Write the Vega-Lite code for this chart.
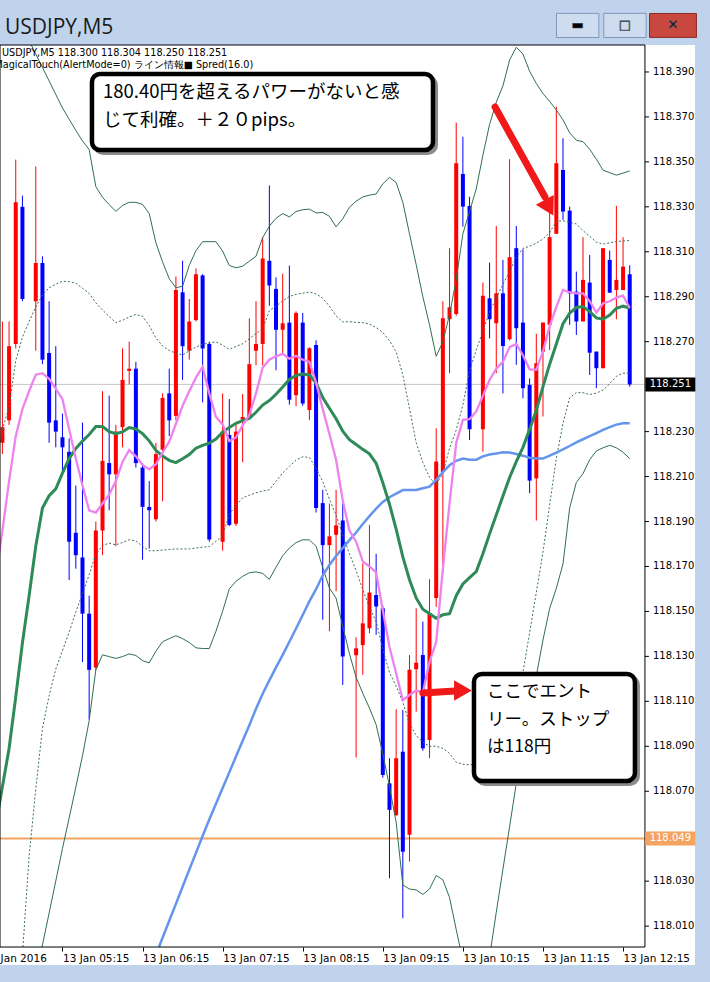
{
"$schema":"https://vega.github.io/schema/vega-lite/v6.json",
"width":695,"height":920,
"autosize":{"type":"none"},
"padding":{"left":0,"top":45,"right":15,"bottom":17},
"background":"#bfd4ec",
"config":{"view":{"fill":"white","stroke":null},"font":"DejaVu Sans"},
"datasets":{
"candles":[
{"t":270,"o":118.225,"h":118.279,"l":118.220,"c":118.232},
{"t":275,"o":118.235,"h":118.279,"l":118.233,"c":118.268},
{"t":280,"o":118.269,"h":118.351,"l":118.267,"c":118.332},
{"t":285,"o":118.330,"h":118.335,"l":118.288,"c":118.289},
{"t":295,"o":118.288,"h":118.348,"l":118.266,"c":118.305},
{"t":300,"o":118.305,"h":118.308,"l":118.260,"c":118.262},
{"t":305,"o":118.265,"h":118.288,"l":118.225,"c":118.234},
{"t":310,"o":118.235,"h":118.268,"l":118.223,"c":118.230},
{"t":315,"o":118.2275,"h":118.238,"l":118.212,"c":118.223},
{"t":320,"o":118.221,"h":118.227,"l":118.164,"c":118.181},
{"t":325,"o":118.185,"h":118.206,"l":118.169,"c":118.175},
{"t":330,"o":118.174,"h":118.234,"l":118.1275,"c":118.149},
{"t":335,"o":118.149,"h":118.157,"l":118.102,"c":118.124},
{"t":340,"o":118.125,"h":118.190,"l":118.124,"c":118.186},
{"t":345,"o":118.186,"h":118.248,"l":118.175,"c":118.217},
{"t":350,"o":118.216,"h":118.246,"l":118.195,"c":118.211},
{"t":355,"o":118.211,"h":118.233,"l":118.179,"c":118.230},
{"t":360,"o":118.232,"h":118.267,"l":118.223,"c":118.253},
{"t":365,"o":118.257,"h":118.270,"l":118.251,"c":118.258},
{"t":370,"o":118.258,"h":118.261,"l":118.214,"c":118.216},
{"t":375,"o":118.214,"h":118.216,"l":118.173,"c":118.1965},
{"t":380,"o":118.1965,"h":118.208,"l":118.178,"c":118.195},
{"t":385,"o":118.191,"h":118.225,"l":118.190,"c":118.220},
{"t":390,"o":118.222,"h":118.247,"l":118.199,"c":118.245},
{"t":395,"o":118.247,"h":118.258,"l":118.228,"c":118.235},
{"t":400,"o":118.237,"h":118.299,"l":118.235,"c":118.293},
{"t":405,"o":118.292,"h":118.306,"l":118.253,"c":118.268},
{"t":410,"o":118.266,"h":118.289,"l":118.262,"c":118.279},
{"t":415,"o":118.2796,"h":118.3026,"l":118.279,"c":118.300},
{"t":420,"o":118.2995,"h":118.300,"l":118.243,"c":118.267},
{"t":425,"o":118.269,"h":118.270,"l":118.181,"c":118.182},
{"t":435,"o":118.181,"h":118.247,"l":118.177,"c":118.230},
{"t":440,"o":118.2285,"h":118.2445,"l":118.188,"c":118.1885},
{"t":445,"o":118.189,"h":118.2334,"l":118.188,"c":118.230},
{"t":450,"o":118.2353,"h":118.2467,"l":118.2164,"c":118.2365},
{"t":455,"o":118.2365,"h":118.2804,"l":118.236,"c":118.260},
{"t":460,"o":118.266,"h":118.288,"l":118.2595,"c":118.269},
{"t":465,"o":118.269,"h":118.3165,"l":118.2595,"c":118.307},
{"t":470,"o":118.306,"h":118.3395,"l":118.286,"c":118.295},
{"t":475,"o":118.2935,"h":118.2986,"l":118.2573,"c":118.2753},
{"t":480,"o":118.2753,"h":118.3003,"l":118.2646,"c":118.2782},
{"t":485,"o":118.2785,"h":118.3038,"l":118.242,"c":118.2442},
{"t":490,"o":118.2462,"h":118.2835,"l":118.2413,"c":118.2828},
{"t":495,"o":118.2785,"h":118.2828,"l":118.2415,"c":118.2425},
{"t":500,"o":118.2396,"h":118.2675,"l":118.2351,"c":118.2671},
{"t":505,"o":118.2685,"h":118.2706,"l":118.194,"c":118.196},
{"t":510,"o":118.1982,"h":118.2041,"l":118.1463,"c":118.1795},
{"t":515,"o":118.1795,"h":118.198,"l":118.1412,"c":118.1834},
{"t":520,"o":118.1841,"h":118.2041,"l":118.159,"c":118.1883},
{"t":525,"o":118.1905,"h":118.1994,"l":118.1173,"c":118.130},
{"t":535,"o":118.1305,"h":118.1385,"l":118.085,"c":118.1336},
{"t":540,"o":118.135,"h":118.1714,"l":118.1218,"c":118.1447},
{"t":545,"o":118.1425,"h":118.1885,"l":118.1403,"c":118.1584},
{"t":550,"o":118.1573,"h":118.1756,"l":118.1396,"c":118.1522},
{"t":555,"o":118.1514,"h":118.1525,"l":118.076,"c":118.0772},
{"t":560,"o":118.0735,"h":118.0847,"l":118.0313,"c":118.0617},
{"t":565,"o":118.0594,"h":118.1065,"l":118.059,"c":118.0847},
{"t":570,"o":118.0876,"h":118.1062,"l":118.0135,"c":118.0431},
{"t":575,"o":118.0506,"h":118.1306,"l":118.0387,"c":118.124},
{"t":580,"o":118.1243,"h":118.1514,"l":118.1054,"c":118.1272},
{"t":585,"o":118.1306,"h":118.1455,"l":118.088,"c":118.0891},
{"t":590,"o":118.0928,"h":118.1643,"l":118.0847,"c":118.1492},
{"t":595,"o":118.156,"h":118.2315,"l":118.152,"c":118.2167},
{"t":600,"o":118.212,"h":118.288,"l":118.167,"c":118.2804},
{"t":605,"o":118.280,"h":118.3116,"l":118.256,"c":118.2853},
{"t":610,"o":118.2823,"h":118.3675,"l":118.2815,"c":118.3494},
{"t":615,"o":118.3446,"h":118.3612,"l":118.3212,"c":118.3301},
{"t":620,"o":118.3304,"h":118.3345,"l":118.2263,"c":118.231},
{"t":630,"o":118.231,"h":118.2963,"l":118.221,"c":118.2904},
{"t":635,"o":118.2893,"h":118.3052,"l":118.2715,"c":118.280},
{"t":640,"o":118.2782,"h":118.3215,"l":118.256,"c":118.2915},
{"t":645,"o":118.2915,"h":118.3064,"l":118.247,"c":118.2681},
{"t":650,"o":118.2711,"h":118.3512,"l":118.2705,"c":118.3076},
{"t":655,"o":118.3116,"h":118.3215,"l":118.2597,"c":118.276},
{"t":660,"o":118.2785,"h":118.3111,"l":118.2448,"c":118.2493},
{"t":665,"o":118.2508,"h":118.2537,"l":118.2026,"c":118.2082},
{"t":670,"o":118.2092,"h":118.2735,"l":118.1904,"c":118.2604},
{"t":675,"o":118.2656,"h":118.2785,"l":118.2367,"c":118.2785},
{"t":680,"o":118.2775,"h":118.3279,"l":118.2663,"c":118.3165},
{"t":685,"o":118.318,"h":118.3746,"l":118.318,"c":118.3494},
{"t":690,"o":118.3464,"h":118.3605,"l":118.3242,"c":118.3279},
{"t":695,"o":118.3283,"h":118.3301,"l":118.2775,"c":118.2915},
{"t":700,"o":118.2923,"h":118.3012,"l":118.273,"c":118.279},
{"t":705,"o":118.279,"h":118.3165,"l":118.279,"c":118.2975},
{"t":710,"o":118.2963,"h":118.3086,"l":118.2552,"c":118.2651},
{"t":715,"o":118.2656,"h":118.2656,"l":118.2493,"c":118.2582},
{"t":720,"o":118.2582,"h":118.3116,"l":118.2582,"c":118.3116},
{"t":725,"o":118.3064,"h":118.3105,"l":118.2918,"c":118.2918},
{"t":730,"o":118.293,"h":118.3304,"l":118.280,"c":118.2975},
{"t":735,"o":118.293,"h":118.3165,"l":118.293,"c":118.3034},
{"t":740,"o":118.300,"h":118.304,"l":118.250,"c":118.251}
],
"ind":[
{"t":265,"pk":118.165,"gr":118.055,"us":118.44,"ud":118.215},
{"t":270,"pk":118.186,"gr":118.072,"us":118.43,"ud":118.231},
{"t":275,"pk":118.208,"gr":118.089,"us":118.425,"ud":118.241},
{"t":280,"pk":118.228,"gr":118.112,"us":118.418,"ud":118.2615},
{"t":285,"pk":118.240,"gr":118.136,"us":118.41,"ud":118.272},
{"t":285.4,"ld":118.0007},
{"t":290,"pk":118.248,"gr":118.157,"us":118.404,"ud":118.279,"ld":118.041},
{"t":295,"pk":118.2553,"gr":118.179,"us":118.398,"ud":118.2855,"ld":118.071},
{"t":299.7,"ls":118.0007},
{"t":300,"pk":118.256,"gr":118.196,"us":118.392,"ud":118.2908,"ld":118.098},
{"t":305,"pk":118.2535,"gr":118.2015,"us":118.386,"ud":118.294,"ld":118.1125,"ls":118.0158},
{"t":310,"pk":118.249,"gr":118.2045,"us":118.380,"ud":118.2956,"ld":118.1244,"ls":118.0301},
{"t":315,"pk":118.2444,"gr":118.2115,"us":118.374,"ud":118.2969,"ld":118.1325,"ls":118.0445},
{"t":320,"pk":118.231,"gr":118.218,"us":118.369,"ud":118.2967,"ld":118.1408,"ls":118.0581},
{"t":325,"pk":118.218,"gr":118.2225,"us":118.364,"ud":118.296,"ld":118.1498,"ls":118.0718},
{"t":330,"pk":118.206,"gr":118.2258,"us":118.3593,"ud":118.2938,"ld":118.1579,"ls":118.0858},
{"t":335,"pk":118.195,"gr":118.2287,"us":118.3555,"ud":118.2915,"ld":118.1663,"ls":118.1014},
{"t":340,"pk":118.194,"gr":118.2323,"us":118.339,"ud":118.2873,"ld":118.1754,"ls":118.124},
{"t":345,"pk":118.198,"gr":118.2323,"us":118.3342,"ud":118.2841,"ld":118.1793,"ls":118.1307},
{"t":350,"pk":118.202,"gr":118.230,"us":118.331,"ud":118.2812,"ld":118.1804,"ls":118.1299},
{"t":355,"pk":118.208,"gr":118.2291,"us":118.328,"ud":118.2785,"ld":118.1796,"ls":118.1291},
{"t":360,"pk":118.2165,"gr":118.2299,"us":118.3306,"ud":118.2795,"ld":118.1807,"ls":118.1299},
{"t":365,"pk":118.2218,"gr":118.2318,"us":118.332,"ud":118.281,"ld":118.1819,"ls":118.1311},
{"t":370,"pk":118.219,"gr":118.2312,"us":118.332,"ud":118.2821,"ld":118.1814,"ls":118.1304},
{"t":375,"pk":118.2152,"gr":118.2291,"us":118.3311,"ud":118.2813,"ld":118.1789,"ls":118.1281},
{"t":380,"pk":118.2132,"gr":118.2259,"us":118.327,"ud":118.2772,"ld":118.177,"ls":118.1271},
{"t":385,"pk":118.2155,"gr":118.2217,"us":118.314,"ud":118.2717,"ld":118.177,"ls":118.1323},
{"t":387.3,"bl":118.0007},
{"t":390,"pk":118.2207,"gr":118.2191,"us":118.3055,"ud":118.2681,"ld":118.1773,"ls":118.1365,"bl":118.0048},
{"t":395,"pk":118.2255,"gr":118.2172,"us":118.298,"ud":118.2661,"ld":118.1776,"ls":118.1379,"bl":118.0124},
{"t":400,"pk":118.2335,"gr":118.2162,"us":118.294,"ud":118.2649,"ld":118.1778,"ls":118.1392,"bl":118.0199},
{"t":405,"pk":118.2415,"gr":118.2179,"us":118.2947,"ud":118.2641,"ld":118.1778,"ls":118.1379,"bl":118.0275},
{"t":410,"pk":118.248,"gr":118.2198,"us":118.304,"ud":118.2659,"ld":118.1778,"ls":118.1362,"bl":118.0351},
{"t":415,"pk":118.254,"gr":118.2226,"us":118.3105,"ud":118.2676,"ld":118.1782,"ls":118.1338,"bl":118.0426},
{"t":420,"pk":118.2588,"gr":118.2239,"us":118.3145,"ud":118.2689,"ld":118.1786,"ls":118.1335,"bl":118.0501},
{"t":425,"pk":118.247,"gr":118.2249,"us":118.3145,"ud":118.2694,"ld":118.1789,"ls":118.1335,"bl":118.0574},
{"t":430,"pk":118.2365,"gr":118.2267,"us":118.3145,"ud":118.2699,"ld":118.1812,"ls":118.1412,"bl":118.0644},
{"t":435,"pk":118.2332,"gr":118.2298,"us":118.3103,"ud":118.2685,"ld":118.1836,"ls":118.1501,"bl":118.0714},
{"t":440,"pk":118.2258,"gr":118.2318,"us":118.3039,"ud":118.2666,"ld":118.1932,"ls":118.16,"bl":118.0784},
{"t":445,"pk":118.2274,"gr":118.2337,"us":118.3029,"ud":118.2679,"ld":118.1971,"ls":118.1634,"bl":118.0855},
{"t":450,"pk":118.2328,"gr":118.2349,"us":118.3036,"ud":118.2691,"ld":118.2006,"ls":118.1656,"bl":118.0925},
{"t":455,"pk":118.2375,"gr":118.2359,"us":118.3058,"ud":118.2713,"ld":118.2017,"ls":118.1672,"bl":118.0994},
{"t":460,"pk":118.247,"gr":118.2386,"us":118.308,"ud":118.2737,"ld":118.2028,"ls":118.1676,"bl":118.1067},
{"t":465,"pk":118.2585,"gr":118.2418,"us":118.3163,"ud":118.2756,"ld":118.2036,"ls":118.1669,"bl":118.1134},
{"t":470,"pk":118.262,"gr":118.2438,"us":118.3214,"ud":118.2838,"ld":118.2041,"ls":118.1643,"bl":118.1193},
{"t":475,"pk":118.2635,"gr":118.2466,"us":118.3249,"ud":118.2859,"ld":118.2079,"ls":118.1697,"bl":118.1251},
{"t":480,"pk":118.2646,"gr":118.2498,"us":118.327,"ud":118.2881,"ld":118.2116,"ls":118.1748,"bl":118.1307},
{"t":485,"pk":118.2624,"gr":118.2532,"us":118.3255,"ud":118.2901,"ld":118.2145,"ls":118.1782,"bl":118.1365},
{"t":490,"pk":118.2637,"gr":118.255,"us":118.3279,"ud":118.2911,"ld":118.2174,"ls":118.1806,"bl":118.1424},
{"t":495,"pk":118.262,"gr":118.2556,"us":118.3287,"ud":118.2916,"ld":118.2188,"ls":118.1819,"bl":118.1484},
{"t":500,"pk":118.261,"gr":118.2552,"us":118.329,"ud":118.2921,"ld":118.2185,"ls":118.1818,"bl":118.1545},
{"t":505,"pk":118.2518,"gr":118.2516,"us":118.3273,"ud":118.2913,"ld":118.2138,"ls":118.179,"bl":118.1599},
{"t":510,"pk":118.240,"gr":118.2452,"us":118.3275,"ud":118.2893,"ld":118.2077,"ls":118.1695,"bl":118.1661},
{"t":515,"pk":118.229,"gr":118.2404,"us":118.3258,"ud":118.2858,"ld":118.2,"ls":118.1604,"bl":118.1707},
{"t":520,"pk":118.2175,"gr":118.2357,"us":118.3211,"ud":118.2815,"ld":118.1928,"ls":118.1559,"bl":118.1747},
{"t":525,"pk":118.1993,"gr":118.2302,"us":118.3247,"ud":118.2788,"ld":118.184,"ls":118.1434,"bl":118.1782},
{"t":530,"pk":118.186,"gr":118.2264,"us":118.3298,"ud":118.2789,"ld":118.1757,"ls":118.1312,"bl":118.1817},
{"t":535,"pk":118.181,"gr":118.2243,"us":118.3325,"ud":118.2786,"ld":118.1681,"ls":118.1207,"bl":118.1851},
{"t":540,"pk":118.1723,"gr":118.2221,"us":118.3344,"ud":118.2785,"ld":118.1597,"ls":118.1136,"bl":118.1889},
{"t":545,"pk":118.170,"gr":118.2201,"us":118.3352,"ud":118.2778,"ld":118.152,"ls":118.107,"bl":118.1924},
{"t":550,"pk":118.1674,"gr":118.2159,"us":118.3357,"ud":118.2763,"ld":118.1454,"ls":118.0996,"bl":118.1957},
{"t":555,"pk":118.1505,"gr":118.2073,"us":118.3402,"ud":118.2741,"ld":118.1334,"ls":118.0867,"bl":118.1987},
{"t":560,"pk":118.1342,"gr":118.1977,"us":118.3431,"ud":118.2705,"ld":118.1228,"ls":118.0721,"bl":118.2008},
{"t":565,"pk":118.1225,"gr":118.1866,"us":118.3408,"ud":118.2655,"ld":118.1168,"ls":118.0562,"bl":118.2024},
{"t":570,"pk":118.1105,"gr":118.1743,"us":118.332,"ud":118.2553,"ld":118.1096,"ls":118.0283,"bl":118.204},
{"t":575,"pk":118.1128,"gr":118.1641,"us":118.318,"ud":118.2403,"ld":118.1001,"ls":118.0265,"bl":118.204},
{"t":580,"pk":118.1148,"gr":118.156,"us":118.3043,"ud":118.2251,"ld":118.0949,"ls":118.0261,"bl":118.204},
{"t":585,"pk":118.114,"gr":118.151,"us":118.290,"ud":118.2163,"ld":118.0918,"ls":118.0241,"bl":118.2048},
{"t":590,"pk":118.1275,"gr":118.149,"us":118.2775,"ud":118.2096,"ld":118.09,"ls":118.0265,"bl":118.2055},
{"t":595,"pk":118.1364,"gr":118.147,"us":118.2635,"ud":118.2064,"ld":118.09,"ls":118.0325,"bl":118.2085},
{"t":600,"pk":118.169,"gr":118.1485,"us":118.270,"ud":118.2115,"ld":118.0891,"ls":118.0306,"bl":118.212},
{"t":605,"pk":118.198,"gr":118.149,"us":118.282,"ud":118.2226,"ld":118.0868,"ls":118.0227,"bl":118.215},
{"t":610,"pk":118.225,"gr":118.157,"us":118.2976,"ud":118.2307,"ld":118.0829,"ls":118.0085,"bl":118.217},
{"t":612.8,"ls":118.0007},
{"t":615,"pk":118.2352,"gr":118.1622,"us":118.318,"ud":118.2418,"ld":118.082,"bl":118.218},
{"t":620,"pk":118.2355,"gr":118.165,"us":118.3279,"ud":118.2571,"ld":118.0818,"bl":118.2175},
{"t":625,"pk":118.239,"gr":118.1677,"us":118.338,"ud":118.2663,"ld":118.0819,"bl":118.2175},
{"t":630,"pk":118.2459,"gr":118.1757,"us":118.353,"ud":118.2748,"ld":118.0824,"bl":118.219},
{"t":635,"pk":118.253,"gr":118.1845,"us":118.3667,"ud":118.2832,"ld":118.0834,"bl":118.2198},
{"t":636.1,"ls2":118.0007},
{"t":640,"pk":118.258,"gr":118.1929,"us":118.3765,"ud":118.2893,"ld":118.0845,"bl":118.2203,"ls2":118.0161},
{"t":645,"pk":118.261,"gr":118.2013,"us":118.3838,"ud":118.2955,"ld":118.0874,"bl":118.2208,"ls2":118.0353},
{"t":650,"pk":118.2676,"gr":118.2096,"us":118.3953,"ud":118.3011,"ld":118.0932,"bl":118.2207,"ls2":118.0542},
{"t":655,"pk":118.269,"gr":118.2166,"us":118.401,"ud":118.3077,"ld":118.102,"bl":118.22,"ls2":118.0735},
{"t":660,"pk":118.264,"gr":118.223,"us":118.398,"ud":118.3115,"ld":118.123,"bl":118.2193,"ls2":118.0893},
{"t":665,"pk":118.2577,"gr":118.231,"us":118.3903,"ud":118.3125,"ld":118.1405,"bl":118.2184,"ls2":118.1051},
{"t":670,"pk":118.2575,"gr":118.2395,"us":118.3849,"ud":118.3138,"ld":118.1584,"bl":118.218,"ls2":118.1212},
{"t":675,"pk":118.2657,"gr":118.250,"us":118.3804,"ud":118.3157,"ld":118.1764,"bl":118.218,"ls2":118.1373},
{"t":680,"pk":118.2768,"gr":118.26,"us":118.3769,"ud":118.3185,"ld":118.1974,"bl":118.2193,"ls2":118.1513},
{"t":685,"pk":118.2855,"gr":118.269,"us":118.3731,"ud":118.3235,"ld":118.2181,"bl":118.2207,"ls2":118.1603},
{"t":690,"pk":118.293,"gr":118.278,"us":118.3687,"ud":118.3238,"ld":118.2337,"bl":118.2221,"ls2":118.1711},
{"t":695,"pk":118.292,"gr":118.2827,"us":118.3629,"ud":118.3231,"ld":118.245,"bl":118.2236,"ls2":118.1961},
{"t":700,"pk":118.2915,"gr":118.2852,"us":118.3596,"ud":118.3224,"ld":118.2474,"bl":118.2252,"ls2":118.2074},
{"t":705,"pk":118.2915,"gr":118.2856,"us":118.359,"ud":118.3194,"ld":118.2473,"bl":118.2266,"ls2":118.2113},
{"t":710,"pk":118.288,"gr":118.2834,"us":118.3556,"ud":118.3169,"ld":118.2465,"bl":118.228,"ls2":118.2175},
{"t":715,"pk":118.283,"gr":118.2806,"us":118.3512,"ud":118.3143,"ld":118.2471,"bl":118.2293,"ls2":118.2214},
{"t":720,"pk":118.287,"gr":118.280,"us":118.3463,"ud":118.3134,"ld":118.2485,"bl":118.2308,"ls2":118.2228},
{"t":725,"pk":118.288,"gr":118.2819,"us":118.3452,"ud":118.314,"ld":118.2513,"bl":118.232,"ls2":118.2239},
{"t":730,"pk":118.2896,"gr":118.2848,"us":118.3441,"ud":118.3146,"ld":118.2546,"bl":118.2331,"ls2":118.2228},
{"t":735,"pk":118.2905,"gr":118.2858,"us":118.345,"ud":118.3148,"ld":118.256,"bl":118.2337,"ls2":118.2208},
{"t":740,"pk":118.285,"gr":118.285,"us":118.346,"ud":118.315,"ld":118.256,"bl":118.2337,"ls2":118.218}
],
"yticks":[
{"t":751.4,"t2":754.4,"v":118.39},{"t":751.4,"t2":754.4,"v":118.37},{"t":751.4,"t2":754.4,"v":118.35},{"t":751.4,"t2":754.4,"v":118.33},
{"t":751.4,"t2":754.4,"v":118.31},{"t":751.4,"t2":754.4,"v":118.29},{"t":751.4,"t2":754.4,"v":118.27},{"t":751.4,"t2":754.4,"v":118.23},
{"t":751.4,"t2":754.4,"v":118.21},{"t":751.4,"t2":754.4,"v":118.19},{"t":751.4,"t2":754.4,"v":118.17},{"t":751.4,"t2":754.4,"v":118.15},
{"t":751.4,"t2":754.4,"v":118.13},{"t":751.4,"t2":754.4,"v":118.11},{"t":751.4,"t2":754.4,"v":118.09},{"t":751.4,"t2":754.4,"v":118.07},
{"t":751.4,"t2":754.4,"v":118.03},{"t":751.4,"t2":754.4,"v":118.01}],
"hlines":[{"t":268.2,"t2":751.4,"v":118.251,"k":"bid"},{"t":268.2,"t2":751.4,"v":118.049,"k":"line"}],
"frame":[{"t":268.2,"t2":751.4,"v":118.0007,"v2":118.402}],
"badges":[{"t":770.4,"v":118.251,"lab":"118.251","k":"bid"},{"t":770.4,"v":118.049,"lab":"118.049","k":"line"}],
"wintitle":[{"t":271.9,"v":118.4096,"txt":"USDJPY,M5"}],
"buttons":[{"t":701.0,"v":118.4107,"k":"min","ic":"▬"},{"t":736.4,"v":118.4107,"k":"max","ic":"□"},{"t":772.4,"v":118.4107,"k":"close","ic":"✕"}],
"header":[{"t":269.7,"v":118.3985,"txt":"USDJPY,M5  118.300 118.304 118.250 118.251"},{"t":264.0,"v":118.3933,"txt":"MagicalTouch(AlertMode=0) ライン情報■ Spred(16.0)"}],
"boxes":[{"t":337.1,"t2":592.6,"v":118.3891,"v2":118.3553},{"t":623.3,"t2":743.9,"v":118.1222,"v2":118.0746}],
"notes":[
{"t":345.4,"v":118.3811,"txt":"180.40円を超えるパワーがないと感","fs":"a"},
{"t":345.4,"v":118.3686,"txt":"じて利確。＋２０pips。","fs":"a"},
{"t":633.1,"v":118.1142,"txt":"ここでエント","fs":"b"},
{"t":633.1,"v":118.1017,"txt":"リー。ストップ","fs":"b"},
{"t":633.1,"v":118.0897,"txt":"は118円","fs":"b"}],
"shafts":[{"t":639.1,"v":118.3744,"t2":676.5,"v2":118.3344},{"t":585.1,"v":118.1137,"t2":609.1,"v2":118.1146}],
"heads":[{"t":678.5,"v":118.3308,"a":151.6},{"t":612.8,"v":118.1148,"a":90}]
},
"encoding":{
 "x":{"field":"t","type":"quantitative","scale":{"domain":[268.2,788.9],"zero":false,"nice":false},
 "axis":{"orient":"bottom","offset":-18,"values":[270,315,375,435,495,555,615,675,735],
 "labelExpr":"datum.value < 300 ? '13 Jan 2016' : '13 Jan ' + (datum.value < 600 ? '0' : '') + floor(datum.value/60) + ':15'",
 "labelAlign":"left","labelBaseline":"top","labelPadding":2,"labelFontSize":10.5,"labelFont":"DejaVu Sans","labelColor":"#000","labelAngle":0,
 "labelOffset":{"condition":{"test":"datum.value < 300","value":-19},"value":0},
 "tickOpacity":{"condition":{"test":"datum.value < 300","value":0},"value":1},
 "tickSize":4,"tickColor":"#000","domain":false,"grid":false,"title":null,"labelOverlap":false,"labelFlush":false,"labelBound":false,"labelLimit":0}},
 "y":{"field":"v","type":"quantitative","scale":{"domain":[117.9927,118.402],"zero":false,"nice":false},"axis":null}
},
"layer":[
{"data":{"name":"hlines"},"transform":[{"filter":"datum.k == 'bid'"}],"mark":{"type":"rule","color":"#c8c8c8","strokeWidth":1},
 "encoding":{"x2":{"field":"t2"}}},
{"data":{"name":"hlines"},"transform":[{"filter":"datum.k == 'line'"}],"mark":{"type":"rule","color":"#f4a460","strokeWidth":2},
 "encoding":{"x2":{"field":"t2"}}},
{"data":{"name":"candles"},"mark":{"type":"rule","strokeWidth":1},
 "encoding":{"y":{"field":"l","type":"quantitative","scale":{"domain":[117.9927,118.402],"zero":false,"nice":false},"axis":null},"y2":{"field":"h"},
 "color":{"condition":{"test":"datum.c >= datum.o","value":"#ff0000"},"value":"#0000ff"}}},
{"data":{"name":"candles"},"mark":{"type":"rule","strokeWidth":4,"strokeCap":"butt"},
 "encoding":{"y":{"field":"o","type":"quantitative","scale":{"domain":[117.9927,118.402],"zero":false,"nice":false},"axis":null},"y2":{"field":"c"},
 "color":{"condition":{"test":"datum.c >= datum.o","value":"#ff0000"},"value":"#0000ff"}}},
{"data":{"name":"ind"},"transform":[{"filter":"isValid(datum.us)"}],"mark":{"type":"line","color":"#2f6f4f","strokeWidth":1,"clip":true},
 "encoding":{"y":{"field":"us","type":"quantitative","scale":{"domain":[117.9927,118.402],"zero":false,"nice":false},"axis":null}}},
{"data":{"name":"ind"},"transform":[{"filter":"isValid(datum.ls)"}],"mark":{"type":"line","color":"#2f6f4f","strokeWidth":1,"clip":true},
 "encoding":{"y":{"field":"ls","type":"quantitative","scale":{"domain":[117.9927,118.402],"zero":false,"nice":false},"axis":null}}},
{"data":{"name":"ind"},"transform":[{"filter":"isValid(datum.ls2)"}],"mark":{"type":"line","color":"#2f6f4f","strokeWidth":1,"clip":true},
 "encoding":{"y":{"field":"ls2","type":"quantitative","scale":{"domain":[117.9927,118.402],"zero":false,"nice":false},"axis":null}}},
{"data":{"name":"ind"},"transform":[{"filter":"isValid(datum.ud)"}],"mark":{"type":"line","color":"#3d6f5a","strokeWidth":1,"strokeDash":[2,2],"clip":true},
 "encoding":{"y":{"field":"ud","type":"quantitative","scale":{"domain":[117.9927,118.402],"zero":false,"nice":false},"axis":null}}},
{"data":{"name":"ind"},"transform":[{"filter":"isValid(datum.ld)"}],"mark":{"type":"line","color":"#3d6f5a","strokeWidth":1,"strokeDash":[2,2],"clip":true},
 "encoding":{"y":{"field":"ld","type":"quantitative","scale":{"domain":[117.9927,118.402],"zero":false,"nice":false},"axis":null}}},
{"data":{"name":"ind"},"transform":[{"filter":"isValid(datum.bl)"}],"mark":{"type":"line","color":"#6495ed","strokeWidth":2.5,"clip":true},
 "encoding":{"y":{"field":"bl","type":"quantitative","scale":{"domain":[117.9927,118.402],"zero":false,"nice":false},"axis":null}}},
{"data":{"name":"ind"},"transform":[{"filter":"isValid(datum.gr)"}],"mark":{"type":"line","color":"#2e8b57","strokeWidth":3,"clip":true},
 "encoding":{"y":{"field":"gr","type":"quantitative","scale":{"domain":[117.9927,118.402],"zero":false,"nice":false},"axis":null}}},
{"data":{"name":"ind"},"transform":[{"filter":"isValid(datum.pk)"}],"mark":{"type":"line","color":"#ee82ee","strokeWidth":2.3,"clip":true},
 "encoding":{"y":{"field":"pk","type":"quantitative","scale":{"domain":[117.9927,118.402],"zero":false,"nice":false},"axis":null}}},
{"data":{"name":"frame"},"mark":{"type":"rect","fillOpacity":0,"stroke":"#000","strokeWidth":1},
 "encoding":{"x2":{"field":"t2"},"y2":{"field":"v2"}}},
{"data":{"name":"yticks"},"mark":{"type":"rule","color":"#000","strokeWidth":1},
 "encoding":{"x2":{"field":"t2"}}},
{"data":{"name":"yticks"},"mark":{"type":"text","color":"#000","fontSize":10,"font":"DejaVu Sans","align":"left","baseline":"middle","dx":4},
 "encoding":{"x":{"field":"t2","type":"quantitative","scale":{"domain":[268.2,788.9],"zero":false,"nice":false}},"text":{"field":"v","type":"quantitative","format":".3f"}}},
{"data":{"name":"badges"},"mark":{"type":"point","shape":"M-1,-0.28L1,-0.28L1,0.28L-1,0.28Z","size":2500,"filled":true,"opacity":1},
 "encoding":{"color":{"field":"k","type":"nominal","scale":{"domain":["bid","line"],"range":["#000000","#f4a460"]},"legend":null}}},
{"data":{"name":"badges"},"mark":{"type":"text","color":"#ffffff","fontSize":10,"font":"DejaVu Sans","align":"center","baseline":"middle"},
 "encoding":{"text":{"field":"lab"}}},
{"data":{"name":"wintitle"},"mark":{"type":"text","color":"#1a1a1a","fontSize":21,"font":"Open Sans","align":"left","baseline":"middle"},
 "encoding":{"text":{"field":"txt"}}},
{"data":{"name":"buttons"},"transform":[{"filter":"datum.k != 'close'"}],"mark":{"type":"point","shape":"M-1,-0.57L1,-0.57L1,0.57L-1,0.57Z","size":1800,"filled":true,"opacity":1,"color":"#cddcef","stroke":"#7f97b8","strokeWidth":1,"strokeOpacity":1}},
{"data":{"name":"buttons"},"transform":[{"filter":"datum.k == 'close'"}],"mark":{"type":"point","shape":"M-1,-0.51L1,-0.51L1,0.51L-1,0.51Z","size":2200,"filled":true,"opacity":1,"color":"#c8473e","stroke":"#8a2a22","strokeWidth":1,"strokeOpacity":1}},
{"data":{"name":"buttons"},"mark":{"type":"text","fontSize":13,"font":"DejaVu Sans","fontWeight":"bold","align":"center","baseline":"middle","stroke":"#3d4f6b","strokeWidth":0.6},
 "encoding":{"text":{"field":"ic"},"color":{"field":"k","type":"nominal","scale":{"domain":["min","max","close"],"range":["#ffffff","#ffffff","#ffffff"]},"legend":null}}},
{"data":{"name":"header"},"mark":{"type":"text","color":"#000","fontSize":9.7,"font":"DejaVu Sans","align":"left","baseline":"middle"},
 "encoding":{"text":{"field":"txt"}}},
{"data":{"name":"boxes"},"mark":{"type":"rect","fillOpacity":0,"stroke":"#8c8c8c","strokeWidth":4,"cornerRadius":8,"xOffset":3,"x2Offset":3,"yOffset":3,"y2Offset":3},
 "encoding":{"x2":{"field":"t2"},"y2":{"field":"v2"}}},
{"data":{"name":"boxes"},"mark":{"type":"rect","fill":"#ffffff","stroke":"#000000","strokeWidth":4.5,"cornerRadius":8},
 "encoding":{"x2":{"field":"t2"},"y2":{"field":"v2"}}},
{"data":{"name":"notes"},"transform":[{"filter":"datum.fs == 'a'"}],"mark":{"type":"text","color":"#000","fontSize":18.5,"font":"Noto Sans CJK JP","align":"left","baseline":"middle"},
 "encoding":{"text":{"field":"txt"}}},
{"data":{"name":"notes"},"transform":[{"filter":"datum.fs == 'b'"}],"mark":{"type":"text","color":"#000","fontSize":17.5,"font":"Noto Sans CJK JP","align":"left","baseline":"middle"},
 "encoding":{"text":{"field":"txt"}}},
{"data":{"name":"shafts"},"mark":{"type":"rule","color":"#f01818","strokeWidth":7,"strokeCap":"round"},
 "encoding":{"x2":{"field":"t2"},"y2":{"field":"v2"}}},
{"data":{"name":"heads"},"mark":{"type":"point","shape":"triangle","size":420,"filled":true,"opacity":1,"color":"#f01818"},
 "encoding":{"angle":{"field":"a","type":"quantitative","scale":null}}}
]
}
